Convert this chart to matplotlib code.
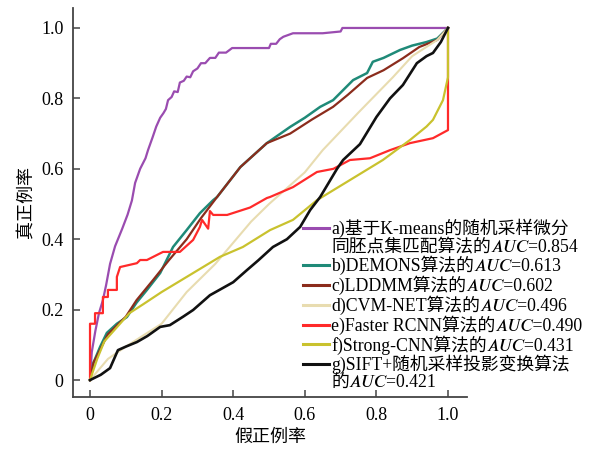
import matplotlib
matplotlib.use("Agg")
import matplotlib.pyplot as plt
from matplotlib.lines import Line2D

plt.rcParams['font.family'] = ['Liberation Serif', 'Noto Sans CJK SC', 'STIXGeneral', 'DejaVu Sans']

# ---------------- data ----------------
a_x = [0, 0.005, 0.015, 0.025, 0.036, 0.045, 0.056, 0.07, 0.09, 0.105, 0.117, 0.126, 0.14, 0.155, 0.162,
       0.175, 0.185, 0.196, 0.205, 0.212, 0.218, 0.228, 0.235, 0.245, 0.251, 0.262, 0.27, 0.28, 0.288,
       0.30, 0.31, 0.322, 0.335, 0.35, 0.36, 0.38, 0.397, 0.50, 0.505, 0.52, 0.53, 0.54, 0.567, 0.65,
       0.70, 0.705, 0.726, 1.0]
a_y = [0, 0.08, 0.14, 0.19, 0.227, 0.27, 0.33, 0.38, 0.43, 0.47, 0.51, 0.56, 0.60, 0.63, 0.653,
       0.69, 0.72, 0.745, 0.758, 0.770, 0.795, 0.804, 0.82, 0.818, 0.845, 0.85, 0.862, 0.86, 0.877,
       0.885, 0.9, 0.9, 0.915, 0.915, 0.93, 0.93, 0.943, 0.943, 0.955, 0.955, 0.968, 0.975, 0.985, 0.985,
       0.99, 1.0, 1.0, 1.0]

b_x = [0, 0.01, 0.028, 0.047, 0.075, 0.103, 0.13, 0.159, 0.196, 0.232, 0.27, 0.307, 0.344, 0.355,
       0.42, 0.494, 0.559, 0.60, 0.643, 0.679, 0.735, 0.774, 0.79, 0.82, 0.866, 0.90, 0.94, 0.97, 1.0]
b_y = [0, 0.05, 0.094, 0.134, 0.16, 0.179, 0.22, 0.256, 0.304, 0.378, 0.426, 0.474, 0.511, 0.52,
       0.605, 0.673, 0.719, 0.745, 0.776, 0.795, 0.852, 0.872, 0.904, 0.915, 0.9375, 0.95, 0.96, 0.97, 1.0]

c_x = [0, 0.01, 0.03, 0.05, 0.1, 0.13, 0.176, 0.22, 0.27, 0.31, 0.355, 0.42, 0.494, 0.559, 0.62,
       0.679, 0.72, 0.774, 0.82, 0.874, 0.92, 0.97, 1.0]
c_y = [0, 0.05, 0.09, 0.13, 0.18, 0.227, 0.284, 0.34, 0.40, 0.46, 0.52, 0.605, 0.673, 0.70, 0.74,
       0.776, 0.81, 0.858, 0.88, 0.914, 0.946, 0.966, 1.0]

d_x = [0, 0.05, 0.1, 0.2, 0.27, 0.35, 0.45, 0.5, 0.6, 0.65, 0.75, 0.846, 0.9, 0.97, 1.0]
d_y = [0, 0.06, 0.095, 0.16, 0.25, 0.33, 0.45, 0.5, 0.59, 0.653, 0.76, 0.86, 0.92, 0.966, 1.0]

e_x = [0, 0, 0.014, 0.014, 0.036, 0.036, 0.05, 0.05, 0.075, 0.075, 0.084, 0.131, 0.14, 0.159, 0.196,
       0.204, 0.251, 0.288, 0.307, 0.313, 0.33, 0.335, 0.344, 0.383, 0.447, 0.494, 0.503, 0.567, 0.634,
       0.68, 0.726, 0.782, 0.838, 0.894, 0.958, 1.0, 1.0]
e_y = [0, 0.16, 0.16, 0.19, 0.19, 0.236, 0.236, 0.256, 0.256, 0.293, 0.321, 0.332, 0.341, 0.341, 0.36,
       0.364, 0.364, 0.398, 0.435, 0.455, 0.43, 0.48, 0.469, 0.469, 0.49, 0.517, 0.52, 0.548, 0.591,
       0.60, 0.625, 0.63, 0.653, 0.673, 0.687, 0.71, 1.0]

f_x = [0, 0.02, 0.04, 0.075, 0.11, 0.148, 0.2, 0.288, 0.363, 0.427, 0.503, 0.567, 0.634, 0.726,
       0.818, 0.894, 0.94, 0.958, 0.986, 1.0, 1.0]
f_y = [0, 0.06, 0.11, 0.15, 0.19, 0.215, 0.25, 0.304, 0.35, 0.378, 0.426, 0.455, 0.511, 0.568,
       0.625, 0.682, 0.72, 0.739, 0.795, 0.86, 1.0]

g_x = [0, 0.03, 0.056, 0.078, 0.1, 0.131, 0.16, 0.196, 0.223, 0.26, 0.288, 0.335, 0.4, 0.438, 0.47,
       0.511, 0.55, 0.587, 0.615, 0.643, 0.69, 0.707, 0.754, 0.80, 0.838, 0.874, 0.913, 0.94, 0.958,
       0.98, 1.0]
g_y = [0, 0.015, 0.034, 0.085, 0.095, 0.108, 0.125, 0.151, 0.156, 0.18, 0.199, 0.241, 0.278, 0.312,
       0.34, 0.378, 0.40, 0.435, 0.483, 0.52, 0.60, 0.625, 0.67, 0.747, 0.80, 0.838, 0.90, 0.92, 0.929,
       0.96, 1.0]

labels = [
    ["a)基于K-means的随机采样微分", "同胚点集匹配算法的𝐴𝑈𝐶=0.854"],
    ["b)DEMONS算法的𝐴𝑈𝐶=0.613"],
    ["c)LDDMM算法的𝐴𝑈𝐶=0.602"],
    ["d)CVM-NET算法的𝐴𝑈𝐶=0.496"],
    ["e)Faster RCNN算法的𝐴𝑈𝐶=0.490"],
    ["f)Strong-CNN算法的𝐴𝑈𝐶=0.431"],
    ["g)SIFT+随机采样投影变换算法", "的𝐴𝑈𝐶=0.421"],
]
xticks = [0, 0.2, 0.4, 0.6, 0.8, 1.0]
xtick_labels = ["0", "0.2", "0.4", "0.6", "0.8", "1.0"]
yticks = [0, 0.2, 0.4, 0.6, 0.8, 1.0]
ytick_labels = ["0", "0.2", "0.4", "0.6", "0.8", "1.0"]
xlabel = "假正例率"
ylabel = "真正例率"

series = [(a_x, a_y), (b_x, b_y), (c_x, c_y), (d_x, d_y), (e_x, e_y), (f_x, f_y), (g_x, g_y)]
colors = ['#9a4cb0', '#1f8a78', '#8b2c1c', '#e8dcb0', '#ff2a2a', '#c9c22e', '#111111']
widths = [1.6, 1.8, 1.6, 1.5, 1.6, 1.6, 1.9]
draw_order = [3, 0, 4, 5, 6, 2, 1]

# ---------------- figure ----------------
fig = plt.figure(figsize=(5.96, 4.54), dpi=100)
ax = fig.add_axes([0.1225, 0.1256, 0.661, 0.857])

for i in draw_order:
    x, y = series[i]
    ax.plot(x, y, color=colors[i], lw=widths[i], zorder=2 + i * 0.1)

ax.set_xlim(-0.0475, 1.053)
ax.set_ylim(-0.048, 1.057)
ax.set_xticks(xticks)
ax.set_xticklabels(xtick_labels)
ax.set_yticks(yticks)
ax.set_yticklabels(ytick_labels)
ax.tick_params(direction='in', length=5, width=1.1, color='#444444', labelsize=13, pad=7)
for s in ['top', 'right']:
    ax.spines[s].set_visible(False)
for s in ['left', 'bottom']:
    ax.spines[s].set_color('#444444')
    ax.spines[s].set_linewidth(1.3)

ax.set_xlabel(xlabel, fontsize=13, labelpad=4)
ax.set_ylabel(ylabel, fontsize=13, labelpad=4)

# legend: continuation lines get an invisible handle
handles, texts = [], []
for i, lab in enumerate(labels):
    handles.append(Line2D([], [], color=colors[i], lw=2.2))
    texts.append(lab[0])
    for extra in lab[1:]:
        handles.append(Line2D([], [], color='none'))
        texts.append(extra)
leg = ax.legend(handles, texts, loc='upper left', bbox_to_anchor=(0.583, 0.458),
                frameon=False, fontsize=12.8, handlelength=1.5, handletextpad=0.1,
                labelspacing=0.02, borderpad=0, borderaxespad=0)

fig.savefig("out.png", dpi=100)
